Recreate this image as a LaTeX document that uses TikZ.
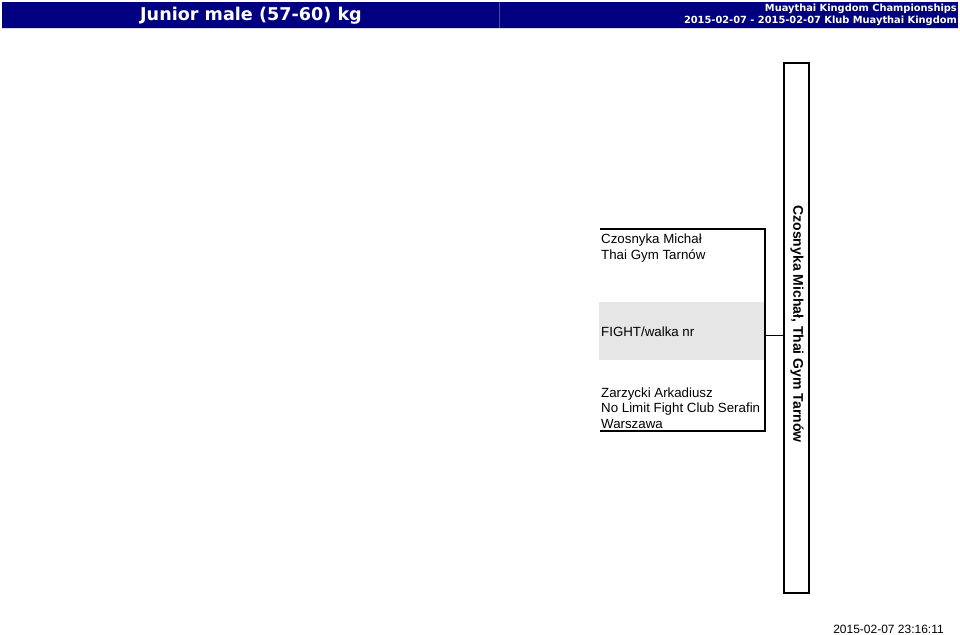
\documentclass[tikz,border=0pt]{standalone}
\usepackage{fontspec}
\setmainfont{Liberation Sans}
\newfontfamily\hdrfont{DejaVu Sans}
\definecolor{navyhdr}{RGB}{0,0,128}
\definecolor{fightgray}{RGB}{230,230,230}
\tikzset{
  hdrtext/.style={text=white, inner sep=0pt, font=\hdrfont\bfseries},
  fighter/.style={anchor=west, align=left, inner sep=0pt, font=\fontsize{13.3}{15.5}\selectfont},
  bracketline/.style={line width=1.8pt},
  winnerbox/.style={draw, line width=1.5pt, anchor=north west, inner sep=0pt, minimum width=25pt, minimum height=530pt},
}
\begin{document}
\begin{tikzpicture}[x=1pt,y=-1pt]
\useasboundingbox (0,0) rectangle (960,634);
\fill[white] (0,0) rectangle (960,634);
% header
\fill[navyhdr] (2,2) rectangle (499,28);
\fill[navyhdr] (500,2) rectangle (958,28);
\fill[navyhdr!70!white] (499,2) rectangle (500,28);
\draw[blue!15, line width=1pt] (2,28.5) -- (958,28.5);
\node[hdrtext, font=\hdrfont\bfseries\fontsize{17.6}{20}\selectfont] (title) at (251,15.5) {Junior male (57-60) kg};
\node[hdrtext, anchor=east, align=right, font=\hdrfont\bfseries\fontsize{9.85}{12}\selectfont] (event) at (957,14.5) {Muaythai Kingdom Championships\\2015-02-07 - 2015-02-07 Klub Muaythai Kingdom};
% fight area
\fill[fightgray] (599,302) rectangle (764,360);
\coordinate (ta) at (600,229);
\coordinate (tb) at (765,229);
\coordinate (ba) at (600,431);
\coordinate (bb) at (765,431);
\coordinate (mid) at (765,335.5);
\draw[bracketline] (ta) -- (tb) -- (bb) -- (ba);
\node[fighter] (red) at (601,248) {Czosnyka Michał\\Thai Gym Tarnów};
\node[fighter] (fight) at (601,332) {FIGHT/walka nr};
\node[fighter] (blue) at (601,408) {Zarzycki Arkadiusz\\No Limit Fight Club Serafin\\Warszawa};
% winner box
\draw[line width=1.5pt] (809.5,63.5) -- (809.5,593.5) -- (784.5,593.5);
\node[winnerbox] (win) at (783,62) {};
\draw[line width=1pt] (mid) -- (mid -| win.west);
\node[rotate=-90, inner sep=0pt, font=\bfseries\fontsize{14}{16}\selectfont] (winname) at (797,324) {Czosnyka Michał, Thai Gym Tarnów};
% date
\node[anchor=east, inner sep=0pt, font=\fontsize{12}{14}\selectfont] (date) at (944,629) {2015-02-07 23:16:11};
\end{tikzpicture}
\end{document}
